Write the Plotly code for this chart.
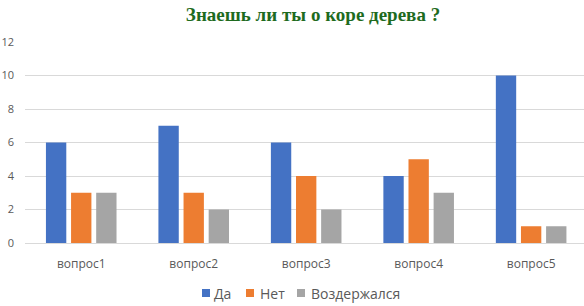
import plotly.graph_objects as go

categories = ["вопрос1", "вопрос2", "вопрос3", "вопрос4", "вопрос5"]
series_names = ["Да", "Нет", "Воздержался"]
da = [6, 7, 6, 4, 10]
net = [3, 3, 4, 5, 1]
vozd = [3, 2, 2, 3, 1]
colors = ["#4472C4", "#ED7D31", "#A5A5A5"]
title_text = "Знаешь ли ты о коре дерева ?"

W, H = 584, 306
fig = go.Figure()
for name, vals, c in zip(series_names, [da, net, vozd], colors):
    fig.add_trace(go.Bar(x=categories, y=vals, name=name, marker=dict(color=c, line=dict(width=0)),
                         showlegend=False))

# manual legend (Excel-like compact spacing)
legend_square_x = [202, 246, 297]
legend_text_x = [212, 258, 309]
leg_y = 293
for name, c, sx, tx in zip(series_names, colors, legend_square_x, legend_text_x):
    fig.add_shape(type="rect", xref="paper", yref="paper",
                  x0=(sx - 25) / (W - 25), x1=(sx + 8 - 25) / (W - 25),
                  y0=(243 - (leg_y + 4)) / 201, y1=(243 - (leg_y - 4)) / 201,
                  fillcolor=c, line=dict(width=0), layer="above")
    fig.add_annotation(text=name, xref="paper", yref="paper",
                       x=(tx - 25) / (W - 25), y=(243 - leg_y) / 201,
                       xanchor="left", yanchor="middle", showarrow=False,
                       font=dict(size=14, color="#595959"))

fig.update_layout(
    width=W, height=H,
    margin=dict(l=25, r=0, t=42, b=63),
    paper_bgcolor="white", plot_bgcolor="white",
    barmode="group", bargap=0.33, bargroupgap=0.19,
    font=dict(family="Open Sans, Noto Sans, sans-serif", size=11, color="#595959"),
    title=dict(text="<b>" + title_text + "</b>", x=313 / W, xanchor="center", xref="container",
               y=1 - 14 / H, yanchor="middle", yref="container",
               font=dict(family="Liberation Serif, Times New Roman, serif", size=19, color="#1E6B1E")),
    xaxis=dict(range=[-0.5, 4.47], showgrid=False, showline=False, ticks="", ticklabelstandoff=12,
               tickfont=dict(size=12, color="#595959")),
    yaxis=dict(range=[0, 12], dtick=2, showgrid=True, gridcolor="#D9D9D9", gridwidth=1,
               zeroline=True, zerolinecolor="#D9D9D9", zerolinewidth=1, showline=False, ticks="",
               ticklabelstandoff=10, tickfont=dict(size=11, color="#595959")),
    showlegend=False,
)
fig.write_html("out.html")
